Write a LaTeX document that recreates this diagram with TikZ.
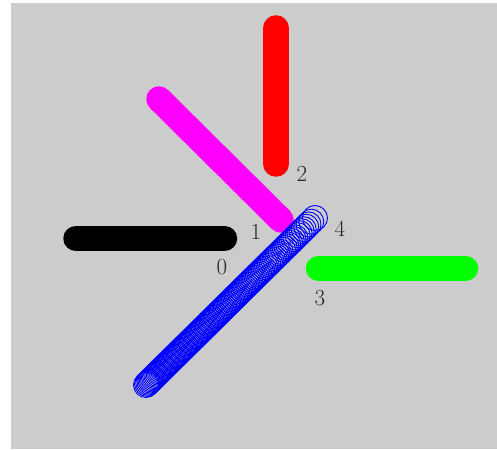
\documentclass[tikz,border=0pt]{standalone}
\usetikzlibrary{calc}
\definecolor{penpink}{rgb}{1,0,1}
\definecolor{pengreen}{rgb}{0,1,0}
\definecolor{penblue}{rgb}{0,0,1}
\definecolor{penred}{rgb}{1,0,0}
\definecolor{canvas}{rgb}{0.8,0.8,0.8}

\begin{document}
\begin{tikzpicture}[
  x=1pt, y=-1pt,
  bar/.style={line width=25.5pt, line cap=round},
  ring/.style={draw=penblue, line width=0.9pt},
  num/.style={font=\fontsize{23}{23}\selectfont, inner sep=0pt, text=black!85},
]
% ---- canvas ----
\useasboundingbox (0,0) rectangle (497,449);
\fill[white] (0,0) rectangle (497,449);
\fill[canvas] (11,3) rectangle (497,449);
% ---- end points of the five strokes ----
\coordinate (s0a) at (76,238.5);  \coordinate (s0b) at (224.5,238.5);
\coordinate (s1a) at (159,99);    \coordinate (s1b) at (281,220);
\coordinate (s2a) at (276,28);    \coordinate (s2b) at (276,164);
\coordinate (s3a) at (318.5,268.5); \coordinate (s3b) at (465.5,268.5);
\coordinate (s4a) at (315,218);   \coordinate (s4b) at (146,385);
% ---- solid strokes ----
\draw[bar, black]     (s0a) -- (s0b);
\draw[bar, penpink]   (s1a) -- (s1b);
\draw[bar, penred]    (s2a) -- (s2b);
\draw[bar, pengreen]  (s3a) -- (s3b);
% ---- ringed stroke ----
\foreach \i in {0,...,120}
  \draw[ring] ($(s4a)!{(\i/120)^0.8}!(s4b)$) circle (12.5);
% ---- labels ----
\node[num] (n0) at (222,267) {0};
\node[num] (n1) at (256,232) {1};
\node[num] (n2) at (302,174) {2};
\node[num] (n3) at (320,298) {3};
\node[num] (n4) at (340,229) {4};
\end{tikzpicture}
\end{document}
